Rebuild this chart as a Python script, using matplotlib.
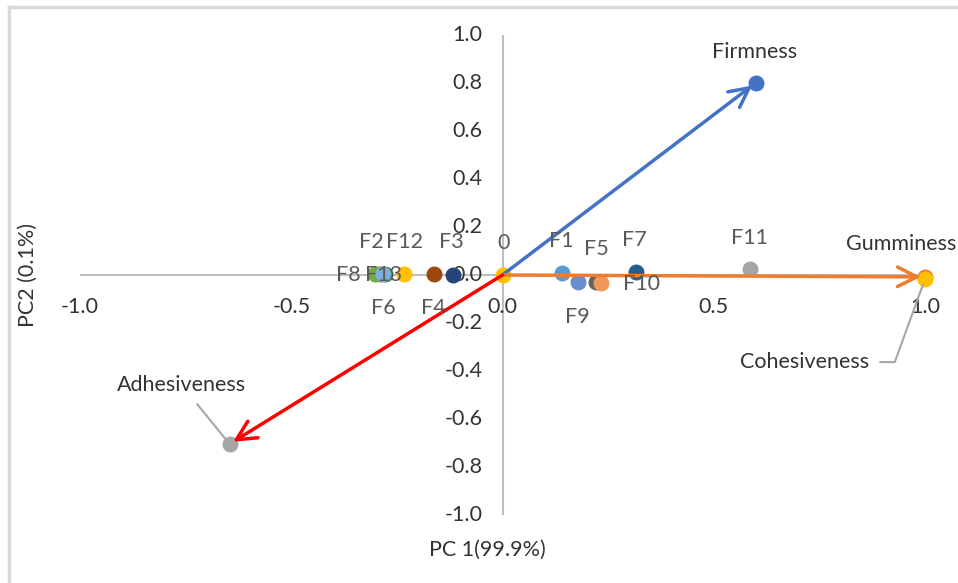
import matplotlib.pyplot as plt
from matplotlib.lines import Line2D

# PCA biplot: loadings (variables) and scores (formulations)
var_names = ['Firmness', 'Gumminess', 'Cohesiveness', 'Adhesiveness']
var_x = [0.599, 1.0, 1.0, -0.646]
var_y = [0.800, -0.008, -0.017, -0.704]
var_colors = ['#4472C4', '#ED7D31', '#FFC000', '#A5A5A5']
arrow_colors = {'Firmness': '#4472C4', 'Gumminess': '#ED7D31', 'Adhesiveness': '#FF0000'}

sample_names = ['F2', 'F6', 'F8', 'F13', 'F12', 'F4', 'F3', '0',
                'F1', 'F9', 'F5', 'F10', 'F7', 'F11']
sample_x = [-0.289, -0.277, -0.301, -0.282, -0.234, -0.163, -0.118, 0.0,
            0.140, 0.178, 0.222, 0.234, 0.315, 0.585]
sample_y = [0.004, 0.004, 0.004, 0.004, 0.004, 0.004, 0.0, 0.0,
            0.008, -0.029, -0.029, -0.033, 0.013, 0.025]
sample_colors = ['#997300', '#43682B', '#70AD47', '#7CAFDD', '#FFC000', '#9E480E',
                 '#264478', '#FFC000', '#5B9BD5', '#698ED0', '#636363', '#F1975A',
                 '#255E91', '#A5A5A5']

x_ticks = [-1.0, -0.5, 0.0, 0.5, 1.0]
y_ticks = [-1.0, -0.8, -0.6, -0.4, -0.2, 0.0, 0.2, 0.4, 0.6, 0.8, 1.0]

# label offsets in pixels (label centre relative to its point)
sample_offsets = {'F2': (-9, 32), 'F6': (-2, -34), 'F8': (-27, -1), 'F13': (0, -1),
                  'F12': (1, 32), 'F4': (0, -34), 'F3': (-1, 33), '0': (1, 32),
                  'F1': (0, 32), 'F9': (0, -35), 'F5': (0, 33), 'F10': (40, -1),
                  'F7': (-1, 32), 'F11': (0, 31)}

plt.rcParams['font.family'] = ['Lato', 'DejaVu Sans']

fig = plt.figure(figsize=(9.58, 5.83), dpi=100)
W, H = 958, 583
ax = fig.add_axes([80 / W, (H - 515) / H, 845 / W, 480 / H])
ax.set_xlim(-1, 1)
ax.set_ylim(-1, 1)
ax.axis('off')

# outer chart border (only left/top visible)
fig.add_artist(Line2D([9 / W, 9 / W], [0, 1 - 7 / H], color='#D9D9D9', lw=2.5))
fig.add_artist(Line2D([9 / W, 1], [1 - 7 / H, 1 - 7 / H], color='#D9D9D9', lw=2.5))

# axes through origin
ax.axhline(0, color='#BFBFBF', lw=1.5, zorder=1)
ax.axvline(0, color='#BFBFBF', lw=1.5, zorder=1)

fs = 15.5
tick_col = '#333333'
for t in x_ticks:
    ax.annotate('%.1f' % t, (t, 0), xytext=(0, -32), textcoords='offset pixels',
                ha='center', va='center', fontsize=fs, color=tick_col)
for t in y_ticks:
    ax.annotate('%.1f' % t, (0, t), xytext=(-20, 0), textcoords='offset pixels',
                ha='right', va='center', fontsize=fs, color=tick_col)

fig.text(28 / W, 1 - 275 / H, 'PC2 (0.1%)', rotation=90, ha='center', va='center',
         fontsize=fs, color=tick_col)
fig.text(487 / W, 1 - 550 / H, 'PC 1(99.9%)', ha='center', va='center',
         fontsize=fs, color=tick_col)

# sample scores
for n, x, y, c in zip(sample_names, sample_x, sample_y, sample_colors):
    ax.scatter(x, y, s=110, color=c, zorder=3, clip_on=False)
    dx, dy = sample_offsets[n]
    ax.annotate(n, (x, y), xytext=(dx, dy), textcoords='offset pixels',
                ha='center', va='center', fontsize=fs, color='#595959', zorder=5)

# loading vectors
for n, x, y in zip(var_names, var_x, var_y):
    if n in arrow_colors:
        ax.annotate('', xy=(x, y), xytext=(0, 0),
                    arrowprops=dict(arrowstyle='->,head_length=0.7,head_width=0.35',
                                    color=arrow_colors[n], lw=2.5,
                                    shrinkA=0, shrinkB=3, mutation_scale=20),
                    zorder=4)
for n, x, y, c in zip(var_names, var_x, var_y, var_colors):
    ax.scatter(x, y, s=110, color=c, zorder=3, clip_on=False)

lab_col = '#333333'
ax.annotate('Firmness', (var_x[0], var_y[0]), xytext=(-1, 31), textcoords='offset pixels',
            ha='center', va='center', fontsize=fs, color=lab_col)
ax.annotate('Gumminess', (var_x[1], var_y[1]), xytext=(-79, 33), textcoords='offset pixels',
            ha='left', va='center', fontsize=fs, color=lab_col, annotation_clip=False)
ax.annotate('Cohesiveness', (var_x[2], var_y[2]), xytext=(-56, -83),
            textcoords='offset pixels', ha='right', va='center', fontsize=fs,
            color=lab_col,
            arrowprops=dict(arrowstyle='-', color='#A6A6A6', lw=1.5, shrinkA=6, shrinkB=4,
                            connectionstyle='angle,angleA=0,angleB=70,rad=0'))
ax.annotate('Adhesiveness', (var_x[3], var_y[3]), xytext=(-48, 59),
            textcoords='offset pixels', ha='center', va='center', fontsize=fs,
            color=lab_col,
            arrowprops=dict(arrowstyle='-', color='#A6A6A6', lw=1.5, shrinkA=6, shrinkB=3))

fig.savefig('out.png', dpi=100)
